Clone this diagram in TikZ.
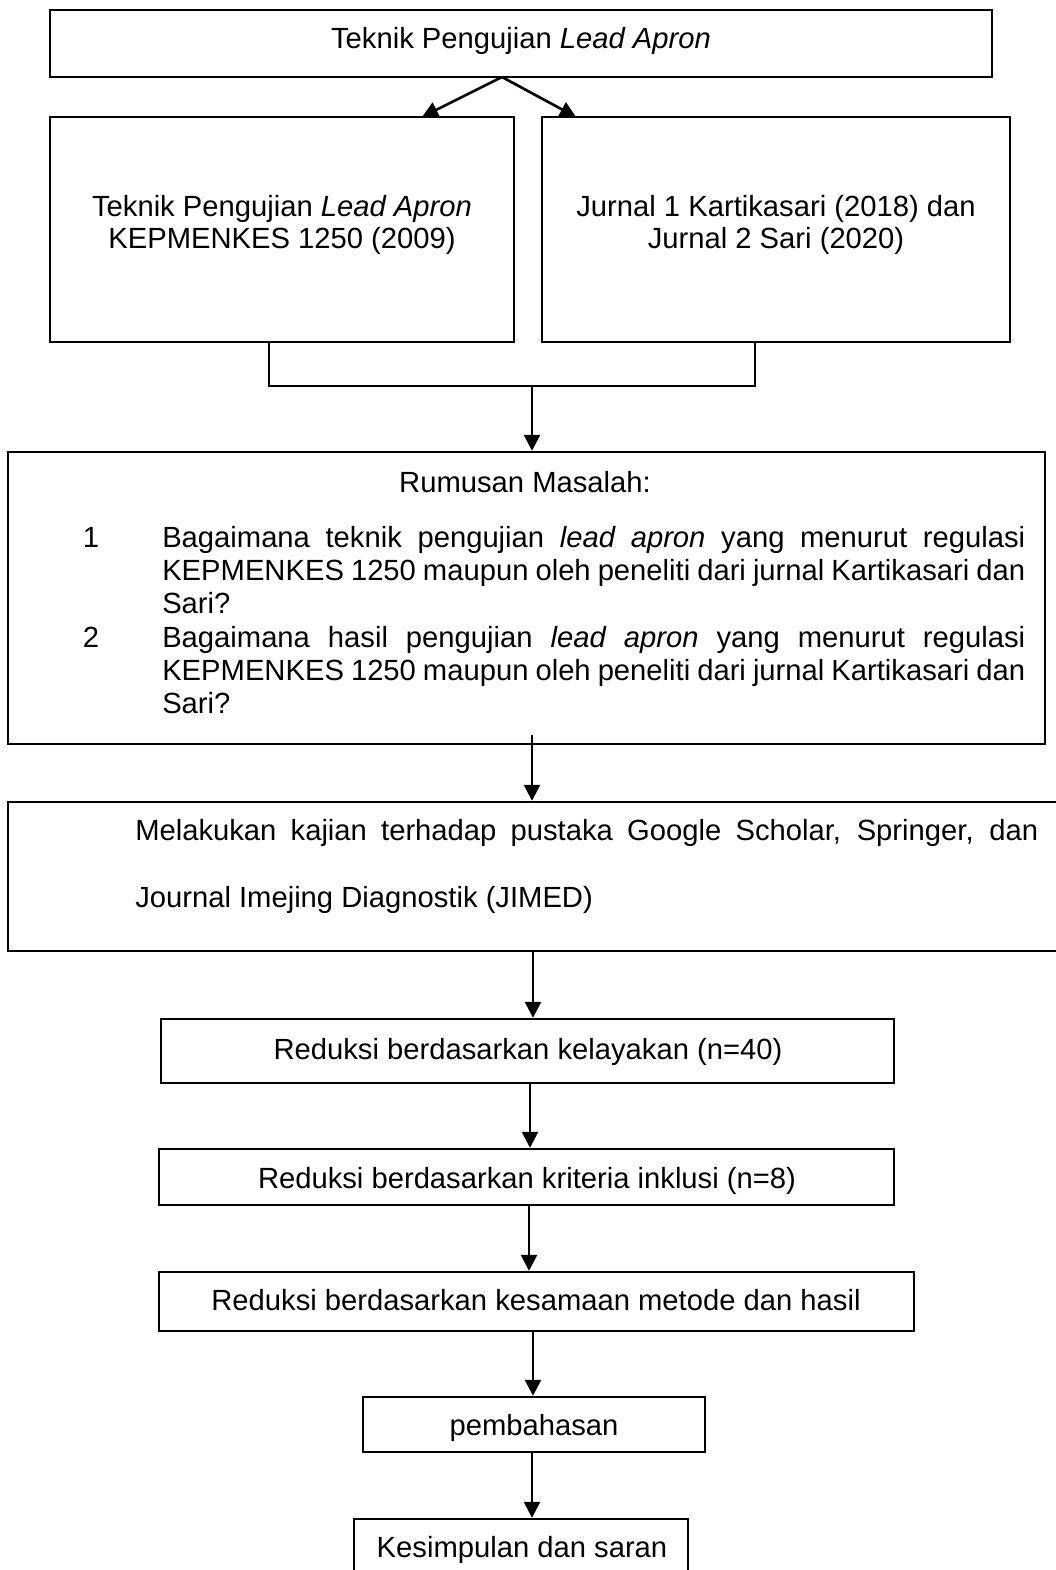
\documentclass[tikz,border=0pt]{standalone}
\usepackage{fontspec}
\setmainfont{Liberation Sans}
\usetikzlibrary{arrows.meta,fit}
\begin{document}
\begin{tikzpicture}[x=0.75pt,y=-0.75pt,
  box/.style={draw, line width=1.8pt, fill=white, inner sep=0pt},
  txt/.style={inner sep=0pt, anchor=base, font=\fontsize{21.9pt}{24pt}\selectfont},
  arr/.style={-{Triangle[length=12pt,width=12pt]}, line width=2pt},
  thinline/.style={line width=0.8pt}]
\useasboundingbox (0,0) rectangle (1056,1570);
\clip (0,0) rectangle (1056,1570);
\fill[white] (0,0) rectangle (1056,1570);

% boxes
\node[box, fit={(50,10)(992,77)}] (top) {};
\node[box, fit={(50,117)(514,342)}] (L) {};
\node[box, fit={(542,117)(1010,342)}] (R) {};
\node[box, fit={(8,452)(1045,744)}] (rum) {};
\node[box, fit={(8,802)(1080,951)}] (mel) {};
\node[box, fit={(161,1019)(894,1083)}] (red1) {};
\node[box, fit={(159,1149)(894,1205)}] (red2) {};
\node[box, fit={(159,1272)(914,1331)}] (red3) {};
\node[box, fit={(363,1397)(705,1452)}] (pem) {};
\node[box, fit={(354,1519)(688,1620)}] (kes) {};

% texts
\node[txt] (t0) at (521,49) {Teknik Pengujian \textit{Lead Apron}};
\node[txt] (tL1) at (282,216) {Teknik Pengujian \textit{Lead Apron}};
\node[txt] (tL2) at (282,248) {KEPMENKES 1250 (2009)};
\node[txt] (tR1) at (776,216) {Jurnal 1 Kartikasari (2018) dan};
\node[txt] (tR2) at (776,248) {Jurnal 2 Sari (2020)};
\node[txt] (trum) at (525,492) {Rumusan Masalah:};
\node[txt] (n1) at (91,547) {1};
\node[txt, anchor=base west] (i11) at (162,547) {\makebox[647.25pt][s]{Bagaimana teknik pengujian \textit{lead apron} yang menurut regulasi}};
\node[txt, anchor=base west] (i12) at (162,580) {\makebox[647.25pt][s]{KEPMENKES 1250 maupun oleh peneliti dari jurnal Kartikasari dan}};
\node[txt, anchor=base west] (i13) at (162,613) {Sari?};
\node[txt] (n2) at (91,647) {2};
\node[txt, anchor=base west] (i21) at (162,647) {\makebox[647.25pt][s]{Bagaimana hasil pengujian \textit{lead apron} yang menurut regulasi}};
\node[txt, anchor=base west] (i22) at (162,680) {\makebox[647.25pt][s]{KEPMENKES 1250 maupun oleh peneliti dari jurnal Kartikasari dan}};
\node[txt, anchor=base west] (i23) at (162,713) {Sari?};
\node[txt, anchor=base west] (m1) at (135,840) {\makebox[677.25pt][s]{Melakukan kajian terhadap pustaka Google Scholar, Springer, dan}};
\node[txt, anchor=base west] (m2) at (135,907) {Journal Imejing Diagnostik (JIMED)};
\node[txt] (tr1) at (528,1059) {Reduksi berdasarkan kelayakan (n=40)};
\node[txt] (tr2) at (527,1188) {Reduksi berdasarkan kriteria inklusi (n=8)};
\node[txt] (tr3) at (536,1310) {Reduksi berdasarkan kesamaan metode dan hasil};
\node[txt] (tp) at (534,1435) {pembahasan};
\node[txt] (tk) at (522,1557) {Kesimpulan dan saran};

% connector points
\coordinate (apex) at (502,77);
\coordinate (tipL) at (422,117);
\coordinate (tipR) at (576,117);
\coordinate (bl) at (269,342);
\coordinate (br) at (755,342);
\coordinate (join) at (532,386);
\coordinate (a2) at (532,735);
\coordinate (c3) at (533,0);
\coordinate (c4) at (530,0);
\coordinate (c5) at (529,0);
\coordinate (c6) at (533,0);
\coordinate (c7) at (532,0);

% connectors
\draw[arr] (apex) -- (tipL);
\draw[arr] (apex) -- (tipR);
\draw[thinline] (bl) |- (join) -| (br);
\draw[arr] (join) -- (rum.north -| join);
\draw[arr] (a2) -- (mel.north -| a2);
\draw[arr] (mel.south -| c3) -- (red1.north -| c3);
\draw[arr] (red1.south -| c4) -- (red2.north -| c4);
\draw[arr] (red2.south -| c5) -- (red3.north -| c5);
\draw[arr] (red3.south -| c6) -- (pem.north -| c6);
\draw[arr] (pem.south -| c7) -- (kes.north -| c7);
\end{tikzpicture}
\end{document}
